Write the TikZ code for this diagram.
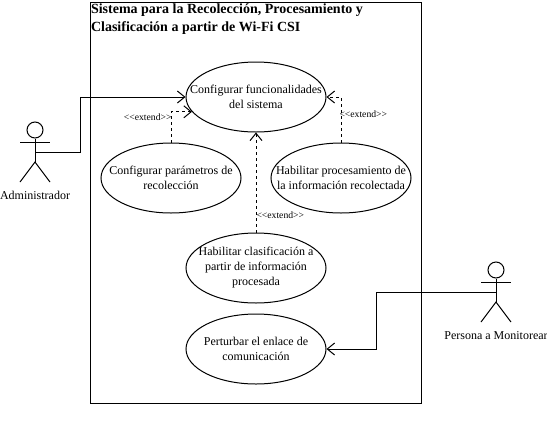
\documentclass[tikz,border=0pt]{standalone}
\usepackage{fontspec}
\setmainfont{Liberation Serif}
\usetikzlibrary{shapes.geometric, arrows.meta, positioning}

\begin{document}
\begin{tikzpicture}[
    x=0.75pt, y=-0.75pt,
    line width=0.75pt,
    font=\fontsize{9}{11.25}\selectfont,
    sysbox/.style={draw, minimum width=248.25pt, minimum height=300.75pt, inner sep=0pt},
    usecase/.style={draw, ellipse, minimum width=105pt, minimum height=52.5pt, inner sep=0pt},
    usetext/.style={align=center, inner sep=0pt, font=\fontsize{9}{11.25}\selectfont},
    actorhead/.style={draw, circle, minimum size=12pt, inner sep=0pt},
    tag/.style={inner sep=0pt, font=\fontsize{7.25}{9}\selectfont},
    arr/.style={-{Straight Barb[length=5.5pt, width=9pt]}},
    ext/.style={arr, dash pattern=on 2.25pt off 2.25pt}
]
\useasboundingbox (0,0) rectangle (547,433);

\node[sysbox] (sys) at (255.5,202.5) {};
\node[anchor=north west, inner sep=0pt, align=left, font=\fontsize{10.5}{13.5}\selectfont\bfseries, xshift=0.75pt, yshift=-1pt] (title) at (sys.north west) {Sistema para la Recolección, Procesamiento y\\Clasificación a partir de Wi-Fi CSI};

\node[usecase, label={[usetext]center:{Configurar funcionalidades\\del sistema}}] (cfgfunc) at (256,97) {};
\node[usecase, below=7.5pt of cfgfunc, xshift=-63.75pt, label={[usetext]center:{Configurar parámetros de\\recolección}}] (cfgparam) {};
\node[usecase, below=7.5pt of cfgfunc, xshift=63.75pt, label={[usetext]center:{Habilitar procesamiento de\\la información recolectada}}] (cfgproc) {};
\node[usecase, below=75pt of cfgfunc, label={[usetext]center:{Habilitar clasificación a\\partir de información\\procesada}}] (cfgclasif) {};
\node[usecase, below=7.5pt of cfgclasif, label={[usetext]center:{Perturbar el enlace de\\comunicación}}] (cfgpert) {};

% actors
\node[actorhead] (adminhead) at (35,130) {};
\coordinate (adminhip) at (35,152);
\coordinate (adminfork) at (35,162);
\draw (adminhead) -- (adminfork);
\draw (20,142) -- (50,142);
\draw (20,182) -- (adminfork) -- (50,182);
\node[below=21.5pt of adminfork, inner sep=0pt] (admin) {Administrador};

\node[actorhead] (perhead) at (496,270) {};
\coordinate (perhip) at (496,292);
\coordinate (perfork) at (496,302);
\draw (perhead) -- (perfork);
\draw (481,282) -- (511,282);
\draw (481,322) -- (perfork) -- (511,322);
\node[below=21.5pt of perfork, inner sep=0pt] (persona) {Persona a Monitorear};

\draw[arr] (adminhip) -- ++(45,0) |- (cfgfunc.west);
\draw[arr] (perhip) -- ++(-120,0) |- (cfgpert.east);

\draw[ext] (cfgparam.north) |- (cfgfunc.193);
\draw[ext] (cfgproc.north) |- (cfgfunc.east);
\draw[ext] (cfgclasif.north) -- (cfgfunc.south);

\node[tag, left=-0.75pt of cfgparam.north, yshift=18.75pt] (tagparam) {<{}<extend>{}>};
\node[tag, right=-1.5pt of cfgproc.north, yshift=21pt] (tagproc) {<{}<extend>{}>};
\node[tag, right=0pt of cfgclasif.north, yshift=12.75pt] (tagclasif) {<{}<extend>{}>};

\end{tikzpicture}
\end{document}
